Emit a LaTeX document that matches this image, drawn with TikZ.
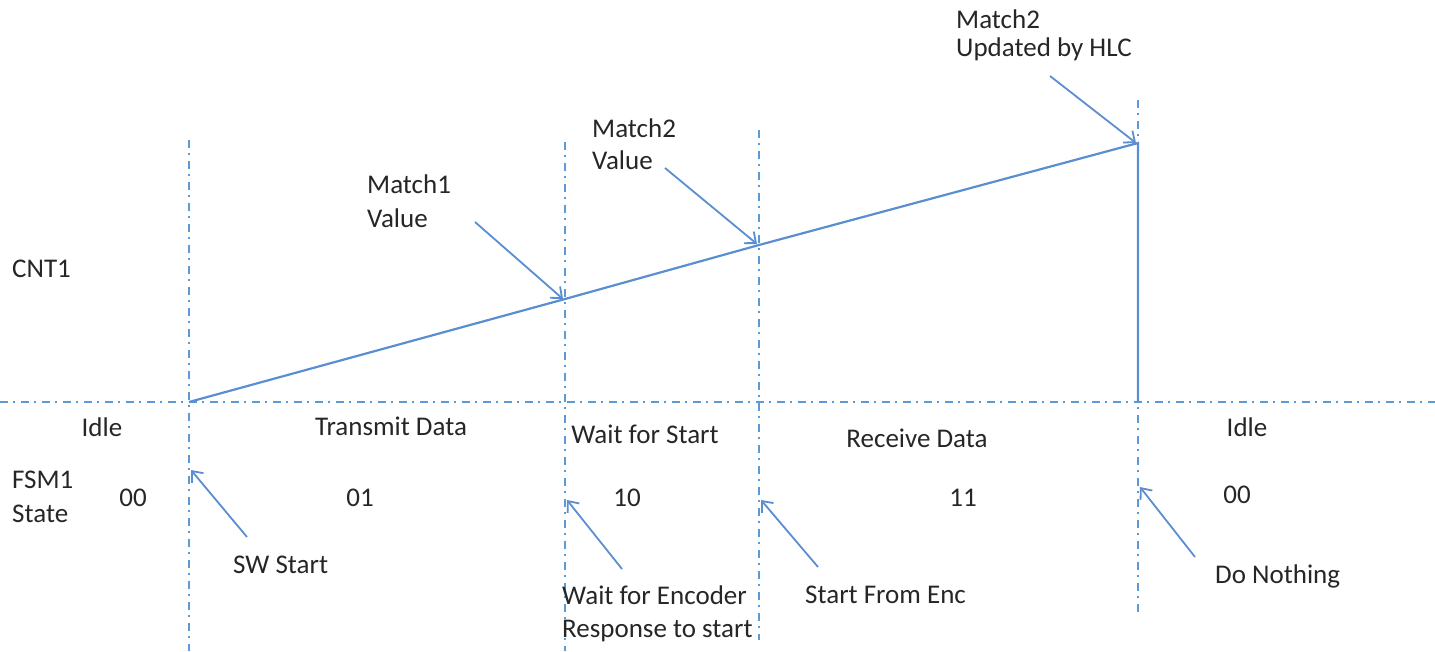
\documentclass[tikz,border=0pt]{standalone}
\usepackage{fontspec}
\setmainfont{Carlito}
\usetikzlibrary{arrows.meta}
\definecolor{gridblue}{HTML}{5B9BD5}
\definecolor{lineblue}{HTML}{5A8ED0}
\begin{document}
\begin{tikzpicture}[x=1pt,y=-1pt,
  dashdot/.style={draw=gridblue,line width=2.2pt,dash pattern=on 8pt off 5pt on 2pt off 6pt},
  ramp/.style={draw=lineblue,line width=2.2pt},
  pointer/.style={draw=lineblue,line width=1.8pt,-{Straight Barb[length=9pt,width=15pt,line width=1.8pt]}},
  lbl/.style={inner sep=0pt,anchor=base west,align=left,font=\fontsize{27}{33}\selectfont,text=black!85},
  clbl/.style={inner sep=0pt,anchor=base,font=\fontsize{27}{33}\selectfont,text=black!85}]
\useasboundingbox (0,0) rectangle (1435,651);
% grid lines
\coordinate (hl) at (0,402);
\coordinate (hr) at (1435,402);
\draw[dashdot] (hl) -- (hr);
\coordinate (v1t) at (189,140); \coordinate (v1b) at (189,651);
\coordinate (v2t) at (565,142); \coordinate (v2b) at (565,651);
\coordinate (v3t) at (759,130); \coordinate (v3b) at (759,640);
\coordinate (v4t) at (1138,100); \coordinate (v4b) at (1138,612);
\draw[dashdot] (v1t) -- (v1b);
\draw[dashdot] (v2t) -- (v2b);
\draw[dashdot] (v3t) -- (v3b);
\draw[dashdot] (v4t) -- (v4b);
% counter ramp
\coordinate (r0) at (189,402);
\coordinate (r1) at (565,299);
\coordinate (r2) at (759,245);
\coordinate (r3) at (1138,143);
\coordinate (r4) at (1138,402);
\draw[ramp,line join=miter] (r0) -- (r1) -- (r2) -- (r3) -- (r4);
% labels (base = baseline of the last line)
\node[lbl] (hlc) at (956,56) {Match2\\[-5pt]Updated by HLC};
\node[lbl] (m2) at (592,169) {Match2\\[-1pt]Value};
\node[lbl] (m1) at (367,227) {Match1\\[1pt]Value};
\node[lbl] (cnt) at (12,277) {CNT1};
\node[clbl] (idle1) at (102,436) {Idle};
\node[clbl] (tx) at (391,435) {Transmit Data};
\node[clbl] (wfs) at (645,443) {Wait for Start};
\node[clbl] (rx) at (917,447) {Receive Data};
\node[clbl] (idle2) at (1247,436) {Idle};
\node[lbl] (fsm) at (12,522) {FSM1\\[1pt]State};
\node[clbl] (s00a) at (133,506) {00};
\node[clbl] (s01) at (360,506) {01};
\node[clbl] (s10) at (627,506) {10};
\node[clbl] (s11) at (963,506) {11};
\node[clbl] (s00b) at (1237,503) {00};
\node[lbl] (sw) at (233,573) {SW Start};
\node[lbl] (enc) at (562,637) {Wait for Encoder\\Response to start};
\node[lbl] (sfe) at (805,603) {Start From Enc};
\node[lbl] (dn) at (1215,583) {Do Nothing};
% pointer arrows
\coordinate (a1s) at (475,222); \coordinate (a1e) at (563,299);
\coordinate (a2s) at (665,168); \coordinate (a2e) at (757,244);
\coordinate (a3s) at (1050,76); \coordinate (a3e) at (1136,143);
\coordinate (a4s) at (247,537); \coordinate (a4e) at (191,470);
\coordinate (a5s) at (622,569); \coordinate (a5e) at (567,500);
\coordinate (a6s) at (818,567); \coordinate (a6e) at (761,500);
\coordinate (a7s) at (1195,557); \coordinate (a7e) at (1140,487);
\draw[pointer] (a1s) -- (a1e);
\draw[pointer] (a2s) -- (a2e);
\draw[pointer] (a3s) -- (a3e);
\draw[pointer] (a4s) -- (a4e);
\draw[pointer] (a5s) -- (a5e);
\draw[pointer] (a6s) -- (a6e);
\draw[pointer] (a7s) -- (a7e);
\end{tikzpicture}
\end{document}
